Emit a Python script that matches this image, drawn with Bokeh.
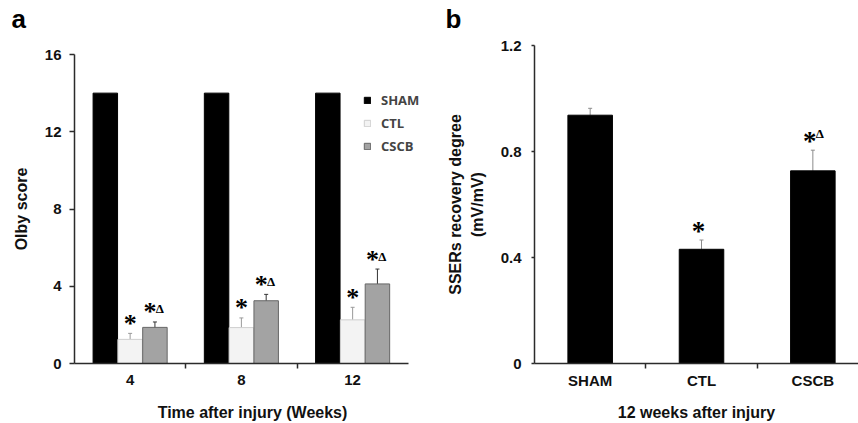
from bokeh.plotting import figure
from bokeh.models import (ColumnDataSource, FixedTicker, Range1d, Whisker, TeeHead,
                          Legend, LegendItem)
from bokeh.layouts import row
from bokeh.embed import file_html
from bokeh.resources import INLINE

# ---------------- data ----------------
weeks = ["4", "8", "12"]
groups = ["SHAM", "CTL", "CSCB"]
sham_a = [14.0, 14.0, 14.0]
ctl_a = [1.25, 1.86, 2.26]
ctl_a_err = [0.31, 0.50, 0.65]
cscb_a = [1.87, 3.25, 4.12]
cscb_a_err = [0.28, 0.33, 0.77]
ctl_a_star = ["*", "*", "*"]
cscb_a_star = ["*", "*", "*"]
cscb_a_delta = ["Δ", "Δ", "Δ"]
a_yticks = [0, 4, 8, 12, 16]

b_groups = ["SHAM", "CTL", "CSCB"]
b_vals = [0.937, 0.431, 0.727]
b_err = [0.026, 0.035, 0.078]
b_star = ["", "*", "*"]
b_delta = ["", "", "Δ"]
b_yticks = [0, 0.4, 0.8, 1.2]

FONT = "Liberation Sans"
AXC = "#2b2b2b"


def style_axes(p, tag, tag_offset, tag_lh):
    p.xgrid.grid_line_color = None
    p.ygrid.grid_line_color = None
    p.outline_line_color = None
    for ax in (p.xaxis[0], p.yaxis[0]):
        ax.axis_line_color = AXC
        ax.axis_line_width = 1.5
        ax.major_tick_line_color = AXC
        ax.major_tick_line_width = 1.5
        ax.minor_tick_line_color = AXC
        ax.minor_tick_line_width = 1.5
        ax.major_tick_in = 0
        ax.minor_tick_in = 0
        ax.minor_tick_out = 0
        ax.major_label_text_font = FONT
        ax.major_label_text_font_size = "15px"
        ax.major_label_text_font_style = "bold"
        ax.major_label_text_color = "#111111"
        ax.axis_label_text_font = FONT
        ax.axis_label_text_font_size = "16px"
        ax.axis_label_text_font_style = "bold"
        ax.axis_label_text_color = "#111111"
    p.title.text = tag + "\n "
    p.title.text_font = FONT
    p.title.text_font_size = "26px"
    p.title.text_font_style = "bold"
    p.title.text_color = "black"
    p.title.text_line_height = tag_lh
    p.title.align = "left"
    p.title.vertical_align = "bottom"
    p.title.offset = tag_offset
    p.title.standoff = 2


# ---------------- panel a ----------------
n = len(weeks)
centers = [i + 0.5 for i in range(n)]
bounds = [float(i) for i in range(1, n)]
off = 0.223
bw = 0.22

pa = figure(width=430, height=423, x_range=Range1d(0, 3.2), y_range=Range1d(0, a_yticks[-1]),
            output_backend="svg", toolbar_location=None, frame_align=False,
            min_border_left=74, min_border_right=0, min_border_top=54, min_border_bottom=60)
style_axes(pa, "a", -63, 0.66)

src_sham = ColumnDataSource(dict(x=[c - off for c in centers], top=sham_a))
src_ctl = ColumnDataSource(dict(x=centers, top=ctl_a,
                                upper=[v + e for v, e in zip(ctl_a, ctl_a_err)],
                                lower=[v - e for v, e in zip(ctl_a, ctl_a_err)],
                                star=ctl_a_star))
src_cscb = ColumnDataSource(dict(x=[c + off for c in centers], top=cscb_a,
                                 upper=[v + e for v, e in zip(cscb_a, cscb_a_err)],
                                 lower=[v - e for v, e in zip(cscb_a, cscb_a_err)],
                                 star=cscb_a_star, delta=cscb_a_delta))

r_sham = pa.vbar(x="x", top="top", width=bw, source=src_sham, fill_color="black", line_color="black")
r_ctl = pa.vbar(x="x", top="top", width=bw, source=src_ctl, fill_color="#f3f3f3", line_color="#cfcfcf")
r_cscb = pa.vbar(x="x", top="top", width=bw, source=src_cscb, fill_color="#a3a3a3", line_color="#666666")

pa.add_layout(Whisker(source=src_ctl, base="x", upper="upper", lower="lower", line_color="#9a9a9a",
                      upper_head=TeeHead(size=4, line_color="#9a9a9a"),
                      lower_head=TeeHead(size=4, line_color="#9a9a9a")))
pa.add_layout(Whisker(source=src_cscb, base="x", upper="upper", lower="lower", line_color="#333333",
                      upper_head=TeeHead(size=4, line_color="#333333"),
                      lower_head=TeeHead(size=4, line_color="#333333")))

pa.text(x="x", y="upper", text="star", source=src_ctl, text_font=FONT, text_font_style="bold",
        text_font_size="26px", text_align="center", text_baseline="alphabetic", y_offset=-10,
        text_color="black")
pa.text(x="x", y="upper", text="star", source=src_cscb, text_font=FONT, text_font_style="bold",
        text_font_size="26px", text_align="center", text_baseline="alphabetic", y_offset=-10,
        x_offset=-5, text_color="black")
pa.text(x="x", y="upper", text="delta", source=src_cscb, text_font=FONT, text_font_style="bold",
        text_font_size="13px", text_align="center", text_baseline="alphabetic", y_offset=-13,
        x_offset=5, text_color="black")

pa.yaxis.ticker = FixedTicker(ticks=a_yticks)
pa.yaxis.major_tick_out = 5
pa.yaxis.major_label_standoff = 8
pa.yaxis.axis_label = "Olby score"
pa.yaxis.axis_label_standoff = 12

pa.xaxis.bounds = (0, n)
pa.xaxis.ticker = FixedTicker(ticks=centers, minor_ticks=bounds)
pa.xaxis.major_tick_out = 0
pa.xaxis.minor_tick_out = 5
pa.xaxis.major_label_overrides = {c: w for c, w in zip(centers, weeks)}
pa.xaxis.major_label_standoff = 6
pa.xaxis.axis_label = "Time after injury (Weeks)"
pa.xaxis.axis_label_standoff = 16

legend = Legend(items=[LegendItem(label=g, renderers=[r]) for g, r in zip(groups, [r_sham, r_ctl, r_cscb])],
                location=(289, 208), padding=0, margin=0, spacing=5, glyph_width=8, glyph_height=8,
                label_height=16, label_standoff=10, label_text_font="Open Sans",
                label_text_font_style="bold", label_text_font_size="13px",
                border_line_color=None, background_fill_alpha=0)
pa.add_layout(legend)

# ---------------- panel b ----------------
nb = len(b_groups)
bcent = [i + 0.5 for i in range(nb)]
bbounds = [float(i) for i in range(1, nb)]

pb = figure(width=428, height=423, x_range=Range1d(0, 2.91), y_range=Range1d(0, b_yticks[-1]),
            output_backend="svg", toolbar_location=None, frame_align=False,
            min_border_left=104, min_border_right=0, min_border_top=45, min_border_bottom=60)
style_axes(pb, "b", -89, 0.35)

src_b = ColumnDataSource(dict(x=bcent, top=b_vals,
                              upper=[v + e for v, e in zip(b_vals, b_err)],
                              star=b_star, delta=b_delta))
pb.vbar(x="x", top="top", width=0.4, source=src_b, fill_color="black", line_color="black")
pb.add_layout(Whisker(source=src_b, base="x", upper="upper", lower="top", line_color="#8c8c8c",
                      upper_head=TeeHead(size=4, line_color="#8c8c8c"), lower_head=None))

pb.text(x="x", y="upper", text="star", source=src_b, text_font=FONT, text_font_style="bold",
        text_font_size="27px", text_align="center", text_baseline="alphabetic", y_offset=-9,
        x_offset=-3, text_color="black")
src_b2 = ColumnDataSource(dict(x=[bcent[2]], upper=[b_vals[2] + b_err[2]], delta=[b_delta[2]]))
pb.text(x="x", y="upper", text="delta", source=src_b2, text_font=FONT, text_font_style="bold",
        text_font_size="13px", text_align="center", text_baseline="alphabetic", y_offset=-17,
        x_offset=7, text_color="black")

pb.yaxis.ticker = FixedTicker(ticks=b_yticks)
pb.yaxis.major_tick_out = 3
pb.yaxis.major_label_standoff = 10
pb.yaxis.major_label_overrides = {0: "0"}
pb.yaxis.axis_label = "SSERs recovery degree\n(mV/mV)"
pb.yaxis.axis_label_standoff = 12
pb.yaxis.axis_label_text_line_height = 1.3

pb.xaxis.ticker = FixedTicker(ticks=bcent, minor_ticks=bbounds)
pb.xaxis.major_tick_out = 0
pb.xaxis.minor_tick_out = 5
pb.xaxis.major_label_overrides = {c: g for c, g in zip(bcent, b_groups)}
pb.xaxis.major_label_standoff = 3
pb.xaxis.axis_label = "12 weeks after injury"
pb.xaxis.axis_label_standoff = 12

layout = row(pa, pb)
open("out.html", "w").write(file_html(layout, INLINE))
